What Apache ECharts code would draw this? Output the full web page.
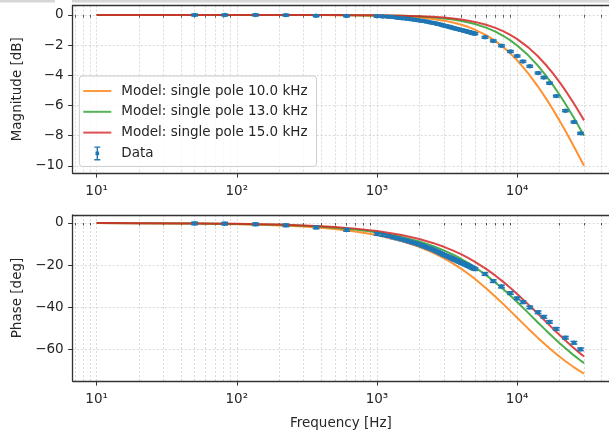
<!DOCTYPE html>
<html><head><meta charset="utf-8">
<script src="https://cdn.jsdelivr.net/npm/echarts@6/dist/echarts.min.js"></script>
<style>html,body{margin:0;padding:0;background:#fff;}#c{width:609px;height:432px;}</style>
</head><body><div id="c"></div>
<script>
// ---- data ----
const freqModel = [10, 20, 50, 100, 150, 200, 300, 400, 500, 700, 1000, 1500, 2000, 2500, 3000, 3500, 4000, 4500, 5000, 6000, 7000, 8000, 9000, 10000, 12000, 14000, 16000, 18000, 20000, 22000, 25000, 28000, 30000];
const magPole10 = [0, 0, -0.0001, -0.0004, -0.001, -0.0017, -0.0039, -0.0069, -0.0108, -0.0212, -0.0432, -0.0966, -0.1703, -0.2633, -0.3743, -0.5019, -0.6446, -0.8008, -0.9691, -1.3354, -1.7319, -2.1484, -2.5768, -3.0103, -3.8739, -4.7129, -5.5145, -6.2737, -6.9897, -7.6641, -8.6034, -9.4645, -10.0];
const magPole13 = [0, 0, -0.0001, -0.0003, -0.0006, -0.001, -0.0023, -0.0041, -0.0064, -0.0126, -0.0256, -0.0575, -0.1016, -0.1577, -0.2253, -0.3040, -0.3929, -0.4915, -0.5992, -0.8387, -1.1057, -1.3947, -1.7005, -2.0186, -2.6766, -3.3441, -4.0050, -4.6497, -5.2723, -5.8701, -6.7194, -7.5121, -8.0107];
const magPole15 = [0, 0, 0, -0.0002, -0.0004, -0.0008, -0.0017, -0.0031, -0.0048, -0.0095, -0.0193, -0.0432, -0.0765, -0.1190, -0.1703, -0.2303, -0.2984, -0.3743, -0.4576, -0.6446, -0.8557, -1.0872, -1.3354, -1.5970, -2.1484, -2.7210, -3.2998, -3.8739, -4.4370, -4.9847, -5.7724, -6.5171, -6.9897];
const phPole10 = [-0.057, -0.115, -0.286, -0.573, -0.859, -1.146, -1.718, -2.291, -2.862, -4.004, -5.711, -8.531, -11.310, -14.036, -16.699, -19.290, -21.801, -24.228, -26.565, -30.964, -34.992, -38.660, -41.987, -45.0, -50.194, -54.462, -57.995, -60.945, -63.435, -65.556, -68.199, -70.346, -71.565];
const phPole13 = [-0.044, -0.088, -0.220, -0.441, -0.661, -0.881, -1.322, -1.762, -2.203, -3.082, -4.399, -6.582, -8.746, -10.886, -12.995, -15.068, -17.103, -19.093, -21.037, -24.775, -28.301, -31.608, -34.695, -37.569, -42.709, -47.121, -50.906, -54.162, -56.976, -59.420, -62.526, -65.090, -66.570];
const phPole15 = [-0.038, -0.076, -0.191, -0.382, -0.573, -0.764, -1.146, -1.528, -1.909, -2.672, -3.814, -5.711, -7.595, -9.462, -11.310, -13.134, -14.931, -16.699, -18.435, -21.801, -25.018, -28.073, -30.964, -33.690, -38.660, -43.025, -46.848, -50.194, -53.130, -55.713, -59.036, -61.821, -63.435];

const dataFreq = [50, 82, 136, 224, 368, 607,
  1000, 1100, 1200, 1300, 1400, 1500, 1600, 1700, 1800, 1900, 2000, 2100, 2200, 2300, 2400, 2500, 2600, 2700, 2800, 2900,
  3000, 3100, 3200, 3300, 3400, 3500, 3600, 3700, 3800, 3900, 4000, 4100, 4200, 4300, 4400, 4500, 4600, 4700, 4800, 4900, 5000,
  5890, 6750, 7730, 8960, 10000, 11000, 12300, 14100, 15500, 17000, 19000, 22100, 25400, 28300];
const dataMag = [0.0, 0.0, 0.0, -0.01, -0.05, -0.06,
  -0.08, -0.10, -0.12, -0.14, -0.19, -0.22, -0.24, -0.27, -0.30, -0.33, -0.36, -0.39, -0.42, -0.45, -0.49, -0.52, -0.55, -0.59, -0.62, -0.66,
  -0.70, -0.73, -0.76, -0.79, -0.83, -0.86, -0.89, -0.92, -0.95, -0.97, -1.00, -1.02, -1.05, -1.07, -1.10, -1.12, -1.15, -1.17, -1.19, -1.22, -1.24,
  -1.48, -1.72, -2.04, -2.42, -2.72, -3.08, -3.40, -3.85, -4.15, -4.52, -5.38, -6.35, -7.10, -7.85];
const dataPhase = [-0.2, -0.3, -0.6, -1.1, -2.1, -3.3,
  -5.2, -5.7, -6.2, -6.8, -7.3, -7.8, -8.3, -8.8, -9.3, -9.7, -10.2, -10.7, -11.2, -11.7, -12.1, -12.6, -13.1, -13.6, -14.1, -14.6,
  -15.1, -15.5, -15.9, -16.3, -16.7, -17.1, -17.5, -17.8, -18.2, -18.5, -18.9, -19.2, -19.5, -19.8, -20.1, -20.4, -20.7, -21.0, -21.3, -21.6, -21.9,
  -24.2, -27.6, -30.2, -33.3, -35.8, -37.6, -40.1, -42.4, -44.6, -47.0, -50.3, -54.5, -56.9, -60.0];
const magErr = 0.06;
const phaseErr = 0.6;

const xMajorTicks = [10, 100, 1000, 10000];
const xMinorTicks = [7, 8, 9, 20, 30, 40, 50, 60, 70, 80, 90, 200, 300, 400, 500, 600, 700, 800, 900,
  2000, 3000, 4000, 5000, 6000, 7000, 8000, 9000, 20000, 30000, 40000];
const magTicks = [0, -2, -4, -6, -8, -10];
const phaseTicks = [0, -20, -40, -60];
const seriesNames = ['Model: single pole 10.0 kHz', 'Model: single pole 13.0 kHz', 'Model: single pole 15.0 kHz', 'Data'];
const colors = ['#ff7f0e', '#2ca02c', '#d62728', '#1f77b4'];

// ---- layout ----
const FONT = 'DejaVu Sans';
const FS = 13.5;
const TXT = '#262626';
const XMIN = 6.75, XMAX = 45200;
const L = 72.7, W = 538.7;

const sup = {'0':'\u2070','1':'\u00b9','2':'\u00b2','3':'\u00b3','4':'\u2074','5':'\u2075'};
function fmtLog(v) {
  const e = String(Math.round(Math.log10(v)));
  return '10' + e.split('').map(c => sup[c]).join('');
}
function fmtNum(v) { return v < 0 ? '\u2212' + Math.abs(v) : String(v); }

const gridLine = {show: true, lineStyle: {color: '#d0d0d0', width: 0.8, type: [2, 2]}};
const frameLine = {show: true, onZero: false, lineStyle: {color: '#333', width: 1.3}};

function xMajor(gi, withName) {
  const a = {
    gridIndex: gi, type: 'log', min: XMIN, max: XMAX, position: 'bottom',
    axisLine: frameLine,
    axisTick: {show: true, customValues: xMajorTicks, length: 4.6, lineStyle: {color: '#333', width: 1}},
    axisLabel: {show: true, customValues: xMajorTicks, formatter: fmtLog, margin: 11,
      fontFamily: FONT, fontSize: FS, color: TXT},
    splitLine: gridLine, minorTick: {show: false}, minorSplitLine: {show: false}
  };
  if (withName) {
    a.name = 'Frequency [Hz]'; a.nameLocation = 'middle'; a.nameGap = 35;
    a.nameTextStyle = {fontFamily: FONT, fontSize: FS, color: TXT};
  }
  return a;
}
function xMinor(gi) {
  return {
    gridIndex: gi, type: 'log', min: XMIN, max: XMAX, position: 'bottom',
    axisLine: {show: false},
    axisTick: {show: true, customValues: xMinorTicks, length: 2.6, lineStyle: {color: '#333', width: 0.8}},
    axisLabel: {show: false, customValues: xMinorTicks},
    splitLine: gridLine
  };
}
function xTop(gi) {
  return {
    gridIndex: gi, type: 'log', min: XMIN, max: XMAX, position: 'top',
    axisLine: frameLine, axisTick: {show: false}, axisLabel: {show: false}, splitLine: {show: false}
  };
}
function yAx(gi, mn, mx, ticks, name) {
  return {
    gridIndex: gi, type: 'value', min: mn, max: mx,
    axisLine: frameLine,
    axisTick: {show: true, customValues: ticks, length: 4.6, lineStyle: {color: '#333', width: 1}},
    axisLabel: {show: true, customValues: ticks, formatter: fmtNum, margin: 9,
      fontFamily: FONT, fontSize: FS, color: TXT},
    splitLine: gridLine,
    name: name, nameLocation: 'middle', nameGap: 47, nameRotate: 90,
    nameTextStyle: {fontFamily: FONT, fontSize: FS, color: TXT}
  };
}

function zip(a, b) { return a.map((v, i) => [v, b[i]]); }
function zipErr(a, b, e) { return a.map((v, i) => [v, b[i], e]); }

function renderErr(params, api) {
  const x = api.value(0), y = api.value(1), e = api.value(2);
  const c = api.coord([x, y]);
  const t = api.coord([x, y + e]);
  const b = api.coord([x, y - e]);
  const hw = 3.4, col = colors[3];
  const st = {stroke: col, lineWidth: 1.6};
  return {type: 'group', children: [
    {type: 'line', shape: {x1: t[0], y1: t[1], x2: b[0], y2: b[1]}, style: st},
    {type: 'line', shape: {x1: t[0] - hw, y1: t[1], x2: t[0] + hw, y2: t[1]}, style: st},
    {type: 'line', shape: {x1: b[0] - hw, y1: b[1], x2: b[0] + hw, y2: b[1]}, style: st},
    {type: 'circle', shape: {cx: c[0], cy: c[1], r: 2.2}, style: {fill: col}}
  ]};
}

function lineSeries(i, xi, yi, ys) {
  return {
    name: seriesNames[i], type: 'line', xAxisIndex: xi, yAxisIndex: yi,
    data: zip(freqModel, ys), showSymbol: false, symbol: 'none', smooth: false,
    lineStyle: {color: colors[i], width: 2, opacity: 0.85}, itemStyle: {color: colors[i]},
    z: 2 + i, animation: false
  };
}
function dataSeries(xi, yi, ys, err) {
  return {
    name: seriesNames[3], type: 'custom', xAxisIndex: xi, yAxisIndex: yi,
    data: zipErr(dataFreq, ys, err), renderItem: renderErr,
    encode: {x: 0, y: 1}, itemStyle: {color: colors[3]}, z: 10, animation: false
  };
}

const lineIcon = 'path://M0,0H28V2H0Z';
const chart = echarts.init(document.getElementById('c'), null, {renderer: 'canvas'});
chart.setOption({
  animation: false,
  backgroundColor: '#ffffff',
  graphic: [
    {type: 'rect', id: 'bandL', z: 100, silent: true, shape: {x: 0, y: 0, width: 55, height: 2.5}, style: {fill: '#d6d6d6'}},
    {type: 'rect', id: 'bandR', z: 100, silent: true, shape: {x: 72, y: 0, width: 537, height: 2.5}, style: {fill: '#d6d6d6'}}
  ],
  grid: [
    {left: L, top: 5.5, width: W, height: 167.5, show: false, containLabel: false},
    {left: L, top: 215, width: W, height: 166, show: false, containLabel: false}
  ],
  xAxis: [xMajor(0, false), xMinor(0), xMajor(1, true), xMinor(1), xTop(0), xTop(1)],
  yAxis: [
    yAx(0, -10.48, 0.63, magTicks, 'Magnitude [dB]'),
    yAx(1, -75.06, 3.8, phaseTicks, 'Phase [deg]')
  ],
  legend: {
    left: 79.3, top: 76, orient: 'vertical',
    itemWidth: 28, itemHeight: 14, itemGap: 6.8,
    padding: [8, 9, 6, 4],
    backgroundColor: 'rgba(255,255,255,0.8)', borderColor: '#cccccc', borderWidth: 1, borderRadius: 3,
    textStyle: {fontFamily: FONT, fontSize: FS, color: TXT, padding: [0, 0, 0, 5]},
    selectedMode: false,
    data: [
      {name: seriesNames[0], icon: lineIcon, itemStyle: {color: colors[0], opacity: 0.8}},
      {name: seriesNames[1], icon: lineIcon, itemStyle: {color: colors[1], opacity: 0.8}},
      {name: seriesNames[2], icon: lineIcon, itemStyle: {color: colors[2], opacity: 0.8}},
      {name: seriesNames[3], icon: 'path://M0,0H6V1.4H3.7V12.6H6V14H0V12.6H2.3V1.4H0Z M1.2,5.2H4.8V8.8H1.2Z', itemStyle: {color: colors[3]}}
    ]
  },
  series: [
    lineSeries(0, 0, 0, magPole10), lineSeries(1, 0, 0, magPole13), lineSeries(2, 0, 0, magPole15),
    dataSeries(0, 0, dataMag, magErr),
    lineSeries(0, 2, 1, phPole10), lineSeries(1, 2, 1, phPole13), lineSeries(2, 2, 1, phPole15),
    dataSeries(2, 1, dataPhase, phaseErr)
  ]
});
</script></body></html>
